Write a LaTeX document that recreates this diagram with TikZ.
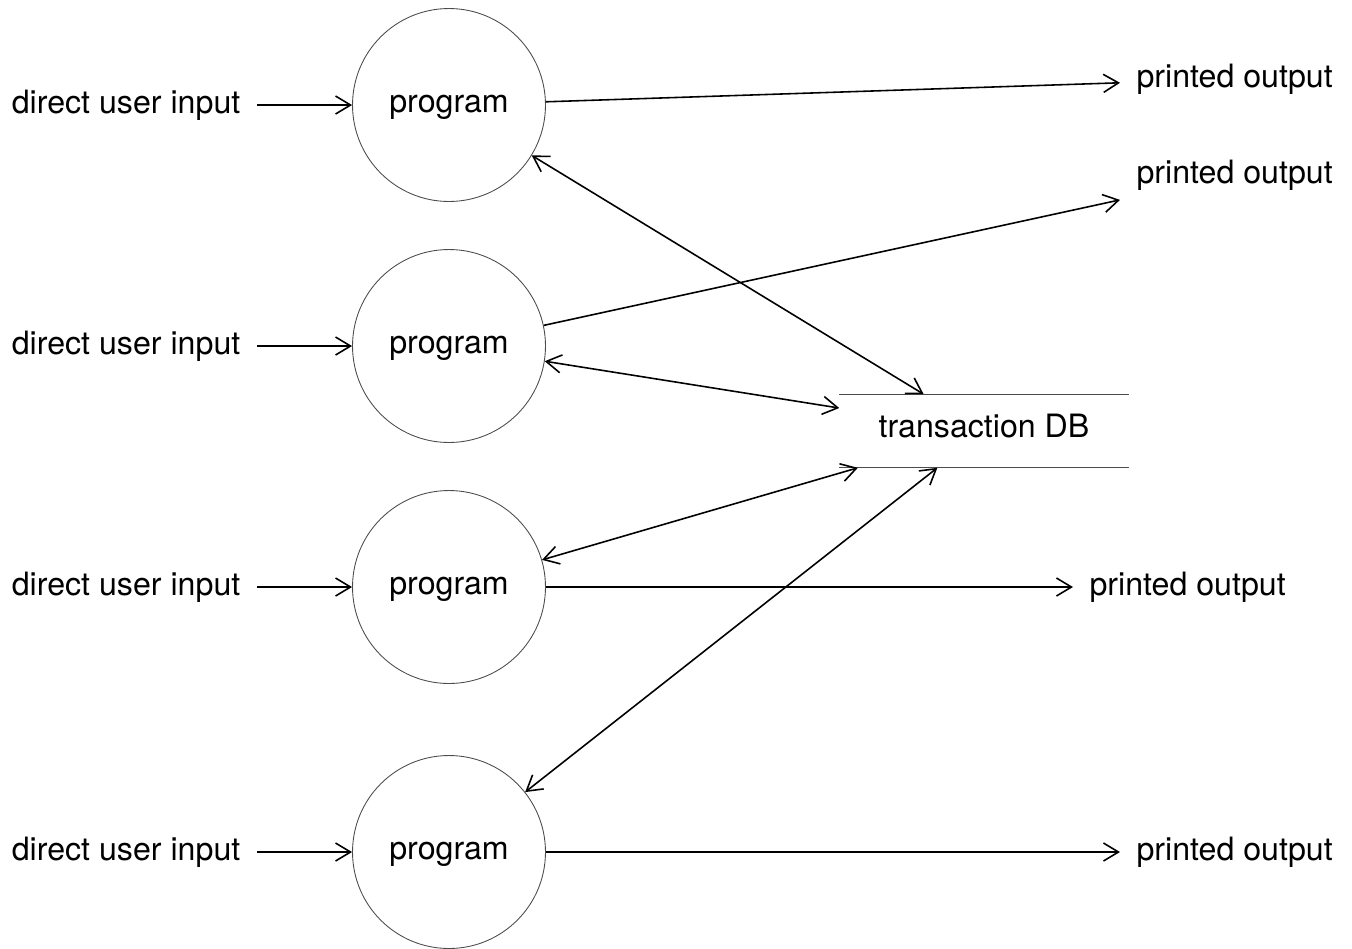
\documentclass[tikz,border=0pt]{standalone}
\usepackage{fontspec}
\setmainfont{TeX Gyre Heros}
\usetikzlibrary{arrows.meta}

\begin{document}
\begin{tikzpicture}[
            x = 0.02cm, y = -0.02cm, % one unit per pixel
            > = {Straight Barb[length=3mm, width=3.6mm]}, % open arrow head
            line width = 0.9pt, % line style
            font = \fontsize{18.3}{22}\selectfont
        ]

        \tikzstyle{program}=[
            circle,
            draw = black!70,
            line width = 0.5pt,
            minimum size = 3.86cm,
            inner sep = 0pt,
            text height = 13pt
        ]
        \tikzstyle{io}=[inner sep = 9pt]

        \useasboundingbox (0,0) rectangle (1352,948);

        \node[program] (p1) at (449,105) {program};
        \node[program] (p2) at (449,346) {program};
        \node[program] (p3) at (449,587) {program};
        \node[program] (p4) at (449,852) {program};

        \node[io, anchor=east] (in1) at (257,105) {direct user input};
        \node[io, anchor=east] (in2) at (257,346) {direct user input};
        \node[io, anchor=east] (in3) at (257,587) {direct user input};
        \node[io, anchor=east] (in4) at (257,852) {direct user input};

        \node[io, anchor=west] (out1) at (1120,79) {printed output};
        \node[io, anchor=west] (out2) at (1120,175) {printed output};
        \node[io, anchor=west] (out3) at (1073,587) {printed output};
        \node[io, anchor=west] (out4) at (1120,852) {printed output};

        \node[minimum width = 5.76cm, minimum height = 1.44cm,
            text depth = 5.6pt] (db) at (984,431) {transaction DB};
        \draw[line width = 0.5pt, black!70] (db.north west) -- (db.north east)
            (db.south west) -- (db.south east);

        \path[->] (in1) edge (p1);
        \path[->] (in2) edge (p2);
        \path[->] (in3) edge (p3);
        \path[->] (in4) edge (p4);

        \path[->] (p1) edge (out1);
        \path[->] (p2) edge (out2);
        \path[->] (p3) edge (out3);
        \path[->] (p4) edge (out4);

        \path[<->] (p1) edge (db);
        \path[<->] (p2) edge (db);
        \path[<->] (p3) edge (db);
        \path[<->] (p4) edge (db);

    \end{tikzpicture}
\end{document}
